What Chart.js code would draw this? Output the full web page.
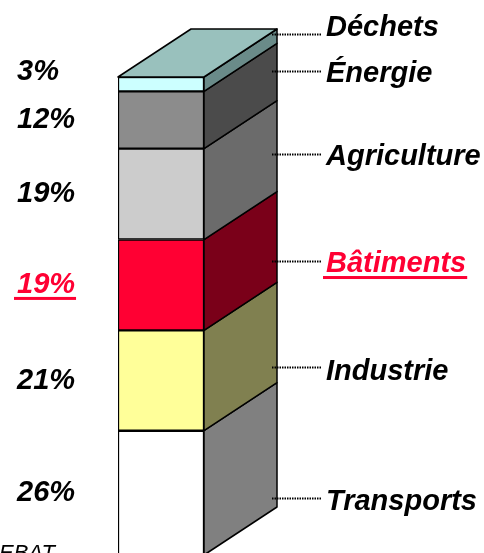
<!DOCTYPE html>
<html>
<head>
<meta charset="utf-8">
<title>Emissions par secteur</title>
<script src="https://cdn.jsdelivr.net/npm/chart.js@4.4.1/dist/chart.umd.min.js"></script>
<style>
    body { margin: 0; overflow: hidden; background: #fff; }
</style>
</head>
<body>
<canvas id="myChart" width="484" height="560"></canvas>
<script>
// stack order, bottom to top
const sectors = ['Transports', 'Industrie', 'Bâtiments', 'Agriculture', 'Énergie', 'Déchets'];
const shares = [26, 21, 19, 19, 12, 3];
const highlight = 'Bâtiments';
const footnote = 'EBAT';

// callouts on the right, in y-axis units (leader line, text baseline)
const leaderAt = [11.9, 39.3, 61.5, 83.9, 101.3, 109.0];
const captionAt = [9.4, 36.6, 59.2, 81.6, 99.0, 108.6];

const frontColors = ['#FFFFFF', '#FFFF99', '#FF0033', '#CCCCCC', '#8C8C8C', '#CCFFFF'];
const sideColors = ['#808080', '#808050', '#7A0019', '#6B6B6B', '#4B4B4B', '#6A8B89'];
const topColor = '#99C1BD';
const red = '#FF0033';
const DX = 73, DY = -48; // depth of the 3d block

const labelFont = 'italic bold 29px "Liberation Sans", Arial, sans-serif';

function underline(ctx, x, baseline, text) {
    const w = ctx.measureText(text).width;
    ctx.fillRect(x - 3, baseline + 4, w + 4, 3);
}

const bar3d = {
    id: 'bar3d',
    afterDatasetsDraw(chart) {
        const ctx = chart.ctx;
        const y = chart.scales.y;
        ctx.save();
        ctx.lineWidth = 1.5;
        ctx.strokeStyle = '#000';
        ctx.lineJoin = 'round';
        let bars = [];
        chart.data.datasets.forEach((ds, i) => {
            const bar = chart.getDatasetMeta(i).data[0];
            bars.push(bar);
            const right = bar.x + bar.width / 2;
            ctx.beginPath();
            ctx.moveTo(right, bar.base);
            ctx.lineTo(right + DX, bar.base + DY);
            ctx.lineTo(right + DX, bar.y + DY);
            ctx.lineTo(right, bar.y);
            ctx.closePath();
            ctx.fillStyle = sideColors[i];
            ctx.fill();
            ctx.stroke();
        });
        // top face
        const last = bars[bars.length - 1];
        const l = last.x - last.width / 2, r = last.x + last.width / 2, t = last.y;
        ctx.beginPath();
        ctx.moveTo(l, t);
        ctx.lineTo(r, t);
        ctx.lineTo(r + DX, t + DY);
        ctx.lineTo(l + DX, t + DY);
        ctx.closePath();
        ctx.fillStyle = topColor;
        ctx.fill();
        ctx.stroke();

        // percentages on the left
        ctx.font = labelFont;
        ctx.textBaseline = 'alphabetic';
        ctx.textAlign = 'left';
        let prev = Infinity;
        bars.forEach((bar, i) => {
            let base = (bar.y + bar.base) / 2 + 8;
            if (prev - base < 48) base = prev - 48;
            prev = base;
            const txt = shares[i] + '%';
            ctx.fillStyle = sectors[i] === highlight ? red : '#000';
            ctx.fillText(txt, 17, base);
            if (sectors[i] === highlight) underline(ctx, 17, base, txt);
        });

        // callouts on the right
        bars.forEach((bar, i) => {
            const right = bar.x + bar.width / 2;
            const ly = Math.round(y.getPixelForValue(leaderAt[i])) + 0.5;
            ctx.save();
            ctx.setLineDash([1.5, 1]);
            ctx.lineWidth = 2;
            ctx.beginPath();
            ctx.moveTo(right + DX - 5, ly);
            ctx.lineTo(right + DX + 45, ly);
            ctx.stroke();
            ctx.restore();
            const by = y.getPixelForValue(captionAt[i]);
            ctx.fillStyle = sectors[i] === highlight ? red : '#000';
            ctx.fillText(sectors[i], right + DX + 49, by);
            if (sectors[i] === highlight) underline(ctx, right + DX + 49, by, sectors[i]);
        });

        ctx.font = 'italic 22px "Liberation Sans", Arial, sans-serif';
        ctx.fillStyle = '#000';
        ctx.fillText(footnote, -1, 560);
        ctx.restore();
    }
};

const ctx = document.getElementById('myChart').getContext('2d');
new Chart(ctx, {
    type: 'bar',
    data: {
        labels: [''],
        datasets: sectors.map((s, i) => ({
            label: s,
            data: [shares[i]],
            backgroundColor: frontColors[i],
            borderColor: '#000',
            borderWidth: 1.5,
            borderSkipped: false,
            barPercentage: 1,
            categoryPercentage: 1
        }))
    },
    options: {
        responsive: false,
        devicePixelRatio: 1,
        animation: false,
        layout: { padding: { left: 118, right: 280, top: 77, bottom: 5 } },
        scales: {
            x: { stacked: true, display: false },
            y: { stacked: true, display: false, min: 0, max: 100 }
        },
        plugins: { legend: { display: false }, tooltip: { enabled: false } }
    },
    plugins: [bar3d]
});
</script>
</body>
</html>
